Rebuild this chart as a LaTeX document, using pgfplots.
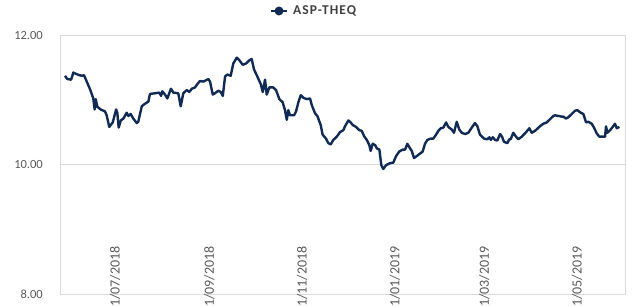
\documentclass[border=0pt]{standalone}
\usepackage{pgfplots}
\pgfplotsset{compat=1.18}
\usepackage{fontspec}
\setmainfont{Carlito}
\definecolor{navy}{RGB}{16,42,84}
\definecolor{gridc}{RGB}{217,217,217}
\definecolor{botc}{RGB}{191,191,191}
\definecolor{tickc}{RGB}{89,89,89}
\definecolor{legc}{RGB}{64,64,64}
\begin{document}
\begin{tikzpicture}
\begin{axis}[
  name=ax,
  scale only axis,
  width=565bp, height=259bp,
  xmin=-36.2, xmax=335.5,
  ymin=8, ymax=12,
  ytick={8,10,12},
  xtick={0,62,123,184,243,304},
  xticklabels={1/07/2018,1/09/2018,1/11/2018,1/01/2019,1/03/2019,1/05/2019},
  /pgf/number format/assume math mode=true,
  y tick label style={/pgf/number format/fixed, /pgf/number format/fixed zerofill, /pgf/number format/precision=2,
    font=\fontsize{12.5bp}{14bp}\selectfont, text=tickc, inner sep=0pt, anchor=east, xshift=-17bp},
  x tick label style={font=\fontsize{14bp}{16bp}\selectfont, text=tickc, inner sep=0pt, yshift=-13bp, rotate=90, anchor=west},
  major tick length=0pt,
  axis line style={gridc, line width=0.75bp},
  ymajorgrids, grid style={gridc, line width=0.75bp},
  legend style={at={(0.4496,1.0927)}, anchor=center, draw=none, fill=none,
    font=\fontsize{13.5bp}{15bp}\selectfont\bfseries\addfontfeature{LetterSpace=8}, text=legc,
    inner sep=0pt, column sep=3bp},
  legend image code/.code={\draw[navy, line width=2.3bp] (0bp,0bp) -- (16bp,0bp); \fill[navy] (8bp,0bp) circle (3.2bp);},
]
\addplot[navy, line width=2.4bp, line join=round] table {
d v
-32.9 11.37
-31.4 11.32
-28.9 11.31
-27.4 11.42
-25.7 11.40
-23.5 11.38
-21.9 11.37
-20.4 11.38
-18.6 11.28
-16.4 11.16
-14.3 11.02
-13.4 10.85
-12.7 11.01
-11.6 10.89
-9.4 10.85
-6.6 10.82
-5.5 10.76
-3.8 10.58
-1.5 10.65
0.7 10.85
1.5 10.80
2.4 10.57
3.8 10.68
5.5 10.71
7.7 10.80
8.8 10.75
10.3 10.78
12.0 10.71
14.3 10.64
15.3 10.66
17.6 10.90
20.4 10.95
21.9 10.97
23.0 11.09
26.3 11.10
29.1 11.11
30.3 11.06
31.1 11.13
32.9 11.08
34.4 11.02
36.8 11.17
38.4 11.11
41.6 11.10
43.2 10.90
44.9 11.10
47.2 11.15
48.9 11.12
50.5 11.17
52.6 11.19
54.1 11.24
55.9 11.29
58.1 11.28
61.4 11.32
62.5 11.28
64.3 11.08
65.8 11.10
68.0 11.14
69.5 11.12
70.9 11.06
72.4 11.36
73.9 11.39
76.1 11.37
77.8 11.56
80.1 11.65
81.8 11.61
84.0 11.54
86.2 11.56
88.4 11.61
89.9 11.63
91.4 11.47
93.6 11.36
95.9 11.24
97.2 11.12
98.7 11.31
99.8 11.08
101.5 11.19
104.1 11.19
105.9 11.15
108.1 11.01
110.3 10.96
111.8 10.84
113.0 10.69
114.0 10.84
115.1 10.76
117.8 10.76
119.1 10.82
120.6 10.96
122.2 11.07
123.9 11.03
126.1 11.01
128.3 11.02
129.4 10.92
131.6 10.79
133.1 10.75
135.3 10.61
136.6 10.46
138.8 10.40
140.3 10.33
141.9 10.31
143.6 10.38
145.9 10.43
148.0 10.50
150.2 10.53
151.3 10.59
153.5 10.68
154.6 10.66
156.4 10.61
158.6 10.58
160.7 10.53
162.3 10.52
163.8 10.44
165.6 10.38
167.3 10.30
168.2 10.21
169.5 10.32
171.1 10.30
172.2 10.25
173.9 10.23
175.2 9.99
176.5 9.93
178.3 9.99
180.9 10.02
183.1 10.03
184.9 10.13
187.0 10.20
189.3 10.23
190.8 10.23
192.3 10.32
194.1 10.25
195.2 10.21
196.7 10.10
198.5 10.13
200.7 10.17
202.4 10.20
203.9 10.32
205.5 10.38
207.7 10.40
209.4 10.40
211.2 10.46
212.7 10.52
214.3 10.56
216.0 10.57
217.8 10.65
219.3 10.58
221.5 10.54
223.0 10.49
224.8 10.66
226.5 10.54
228.1 10.49
230.3 10.47
232.4 10.49
234.7 10.57
236.8 10.64
238.4 10.59
240.1 10.46
242.8 10.40
244.9 10.39
246.3 10.42
247.2 10.38
248.5 10.42
250.0 10.38
251.5 10.37
253.3 10.47
254.6 10.43
255.9 10.35
258.1 10.33
259.4 10.39
260.3 10.39
262.0 10.49
263.8 10.43
265.3 10.39
267.6 10.43
269.7 10.48
272.6 10.56
274.1 10.49
276.3 10.52
279.6 10.59
281.8 10.63
284.0 10.65
286.2 10.70
288.4 10.75
289.5 10.76
291.6 10.75
293.9 10.74
294.9 10.74
296.7 10.71
298.2 10.73
300.5 10.78
302.6 10.83
304.1 10.84
306.4 10.80
308.1 10.78
309.9 10.65
311.4 10.66
313.6 10.63
315.1 10.57
316.9 10.48
318.6 10.43
320.9 10.43
322.4 10.43
323.0 10.59
323.9 10.49
325.7 10.53
327.4 10.58
328.9 10.63
330.1 10.56
331.8 10.58
};
\addlegendentry{ASP-THEQ}
\draw[botc, line width=1bp] (rel axis cs:0,0) -- (rel axis cs:1,0);
\end{axis}
\pgfresetboundingbox
\path[use as bounding box] ([xshift=-60bp,yshift=-12bp]ax.south west) rectangle ([xshift=9bp,yshift=35bp]ax.north east);
\end{tikzpicture}
\end{document}
